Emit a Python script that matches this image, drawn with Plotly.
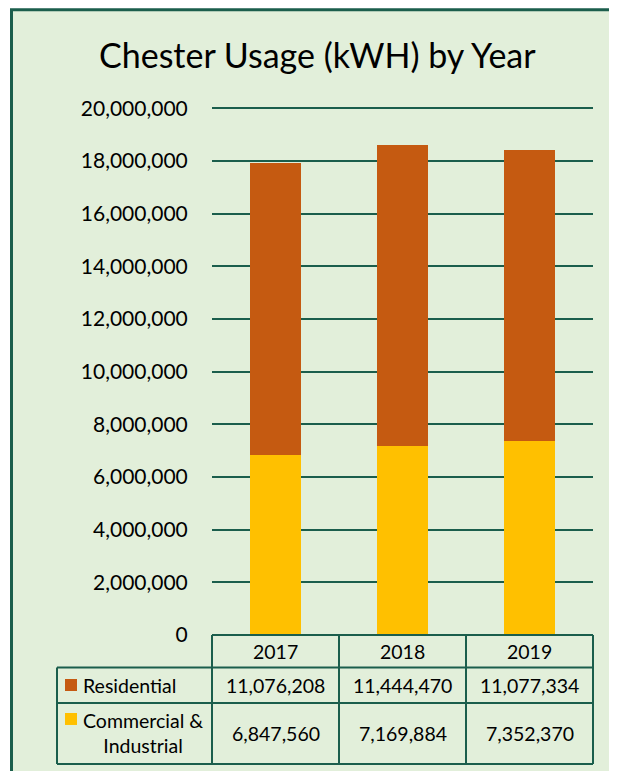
import plotly.graph_objects as go

# ---- data ----
years = ["2017", "2018", "2019"]
residential = [11076208, 11444470, 11077334]
commercial = [6847560, 7169884, 7352370]
series_names = ["Residential", "Commercial &<br>Industrial"]
series_colors = ["#c55a11", "#ffc000"]
y_ticks = [0, 2000000, 4000000, 6000000, 8000000, 10000000,
           12000000, 14000000, 16000000, 18000000, 20000000]

# page has an 8px body margin: work in page pixels, convert to figure pixels
OFF = 8
PAGE_W, PAGE_H = 617, 771
W, H = PAGE_W - OFF, PAGE_H - OFF
Y_MAX = y_ticks[-1] * 1.006          # small headroom so the top gridline is drawn
PLOT_L, PLOT_R, PLOT_B = 212, 593, 635   # page pixels
PX_PER_UNIT = (635 - 108) / y_ticks[-1]
PLOT_T = PLOT_B - Y_MAX * PX_PER_UNIT
ML, MR, MT, MB = PLOT_L - OFF, W - (PLOT_R - OFF), PLOT_T - OFF, H - (PLOT_B - OFF)
PW, PH = PLOT_R - PLOT_L, PLOT_B - PLOT_T
LINE = "#1b5e4c"
BG = "#e2efda"
FONT = "Lato"


def xp(px):
    return (px - PLOT_L) / PW


def yp(py):
    return (PLOT_B - py) / PH


def cat_x(i):
    # paper fraction of category centre (category axis range -0.5..n-0.5)
    return (i + 0.5) / len(years)


fig = go.Figure()
fig.add_trace(go.Bar(x=years, y=commercial, name="Commercial & Industrial",
                     marker=dict(color=series_colors[1], line=dict(width=0))))
fig.add_trace(go.Bar(x=years, y=residential, name="Residential",
                     marker=dict(color=series_colors[0], line=dict(width=0))))

shapes = []
# chart frame (cropped at right/bottom)
shapes.append(dict(type="rect", xref="paper", yref="paper",
                   x0=xp(11.5), x1=xp(PAGE_W + 20), y0=yp(9.5), y1=yp(PAGE_H + 20),
                   fillcolor=BG, line=dict(color=LINE, width=3), layer="below"))

# data table grid
n = len(years)
row_y = [635, 667.5, 703, 764]
tbl_left = 57
lw = 2
shapes.append(dict(type="line", xref="paper", yref="paper", x0=0, x1=1,
                   y0=yp(row_y[0]), y1=yp(row_y[0]), line=dict(color=LINE, width=lw)))
for r in row_y[1:]:
    shapes.append(dict(type="line", xref="paper", yref="paper", x0=xp(tbl_left), x1=1,
                       y0=yp(r), y1=yp(r), line=dict(color=LINE, width=lw)))
for i in range(n + 1):
    xx = i / n
    shapes.append(dict(type="line", xref="paper", yref="paper", x0=xx, x1=xx,
                       y0=yp(row_y[0]), y1=yp(row_y[-1]), line=dict(color=LINE, width=lw)))
shapes.append(dict(type="line", xref="paper", yref="paper", x0=xp(tbl_left), x1=xp(tbl_left),
                   y0=yp(row_y[1]), y1=yp(row_y[-1]), line=dict(color=LINE, width=lw)))

# legend keys in the table
key_rows = [(679, 691), (713, 725)]
for (t, b), col in zip(key_rows, series_colors):
    shapes.append(dict(type="rect", xref="paper", yref="paper",
                       x0=xp(65), x1=xp(77), y0=yp(b), y1=yp(t),
                       fillcolor=col, line=dict(width=0), layer="above"))

annotations = []
annotations.append(dict(text="Chester Usage (kWH) by Year", xref="paper", yref="paper",
                        x=xp(317), y=yp(54), showarrow=False, xanchor="center",
                        yanchor="middle", font=dict(family=FONT, size=34, color="#000000")))
tf = dict(family=FONT, size=19.5, color="#000000")
row_centres = [(row_y[0] + row_y[1]) / 2, (row_y[1] + row_y[2]) / 2, (row_y[2] + row_y[3]) / 2]
for i, yr in enumerate(years):
    annotations.append(dict(text=yr, xref="paper", yref="paper", x=cat_x(i), y=yp(row_centres[0]),
                            showarrow=False, xanchor="center", yanchor="middle", font=tf))
    annotations.append(dict(text=f"{residential[i]:,}", xref="paper", yref="paper", x=cat_x(i),
                            y=yp(row_centres[1]), showarrow=False, xanchor="center",
                            yanchor="middle", font=tf))
    annotations.append(dict(text=f"{commercial[i]:,}", xref="paper", yref="paper", x=cat_x(i),
                            y=yp(row_centres[2]), showarrow=False, xanchor="center",
                            yanchor="middle", font=tf))
annotations.append(dict(text=series_names[0], xref="paper", yref="paper", x=xp(81),
                        y=yp(row_centres[1]), showarrow=False, xanchor="left",
                        yanchor="middle", font=tf))
annotations.append(dict(text=series_names[1], xref="paper", yref="paper", x=xp(143),
                        y=yp(row_centres[2]), showarrow=False, xanchor="center",
                        yanchor="middle", align="center", font=tf))

fig.update_layout(
    width=W, height=H,
    margin=dict(l=ML, r=MR, t=MT, b=MB, pad=0),
    paper_bgcolor="#ffffff",
    plot_bgcolor="rgba(0,0,0,0)",
    barmode="stack",
    bargap=0.6,
    showlegend=False,
    shapes=shapes,
    annotations=annotations,
    font=dict(family=FONT, color="#000000"),
)
fig.update_xaxes(showticklabels=False, showgrid=False, zeroline=False, showline=False,
                 ticks="", fixedrange=True)
fig.update_yaxes(range=[0, Y_MAX], tickvals=y_ticks, tickformat=",",
                 showgrid=True, gridcolor=LINE, gridwidth=2, zeroline=False,
                 showline=False, ticks="outside", ticklen=19, tickcolor="rgba(0,0,0,0)",
                 tickfont=dict(family=FONT, size=21, color="#000000"))

fig.write_html("out.html")
